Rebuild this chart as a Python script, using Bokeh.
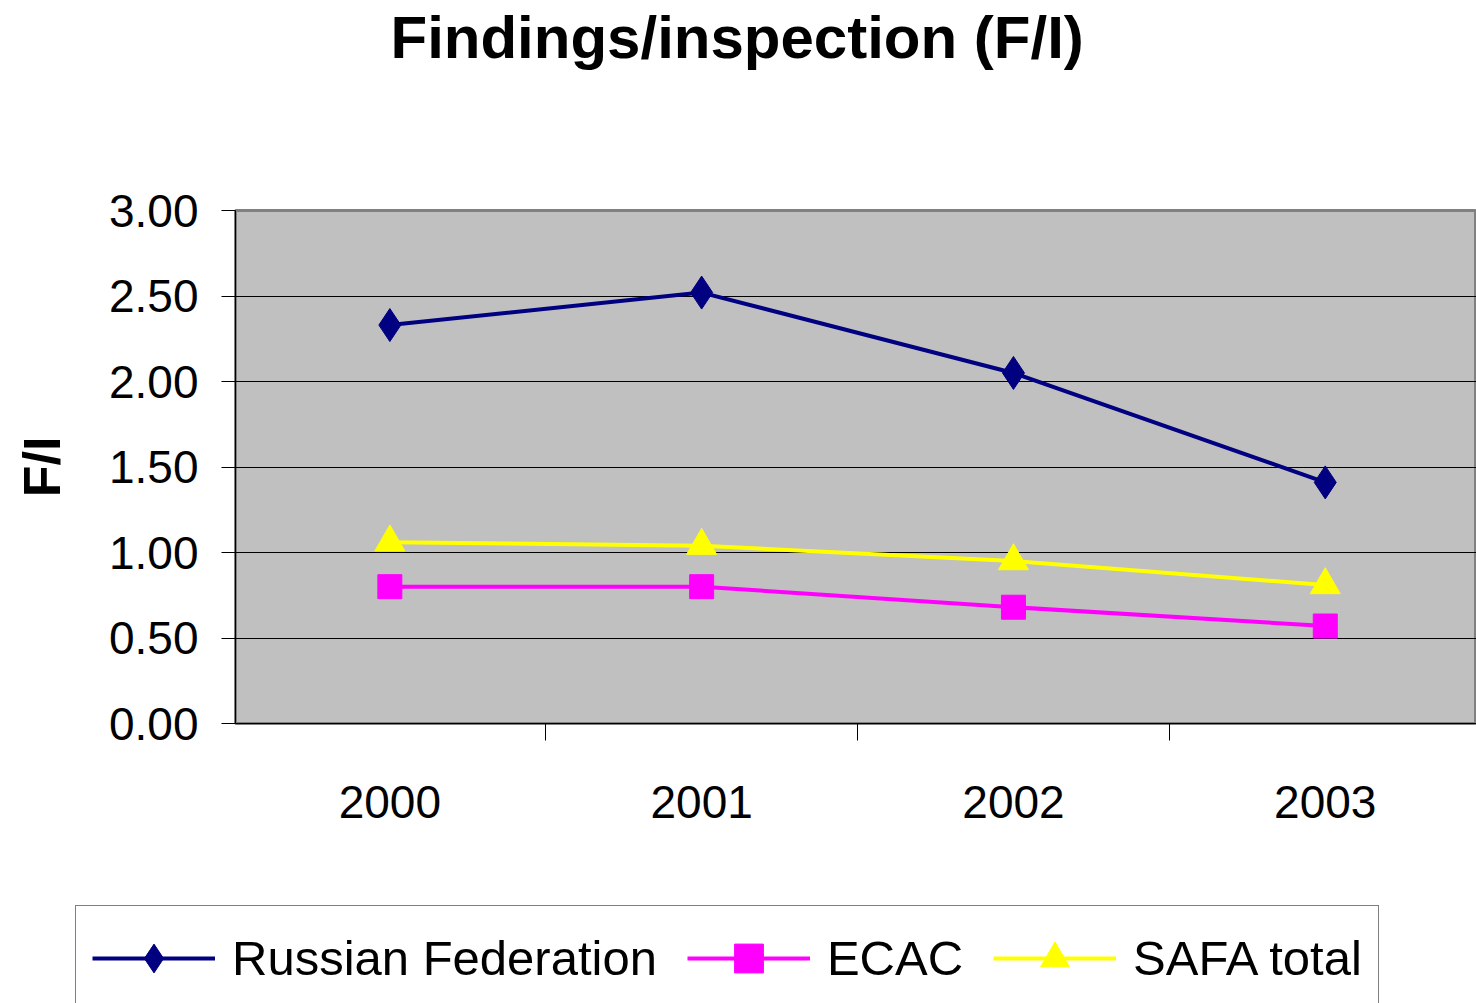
from bokeh.plotting import figure
from bokeh.models import Range1d, FixedTicker, Legend, LegendItem, NumeralTickFormatter, Label
from bokeh.layouts import column
from bokeh.embed import file_html
from bokeh.resources import INLINE

# ---- data ----
years = ["2000", "2001", "2002", "2003"]
russian = [2.33, 2.52, 2.05, 1.41]
ecac = [0.80, 0.80, 0.68, 0.57]
safa = [1.06, 1.04, 0.95, 0.81]
y_ticks = [0, 0.5, 1.0, 1.5, 2.0, 2.5, 3.0]
series_names = ["Russian Federation", "ECAC", "SAFA total"]
colors = ["#000080", "#FF00FF", "#FFFF00"]
markers = ["diamond", "square", "triangle"]
title_text = "Findings/inspection (F/I)"

FONT = "Liberation Sans"
W = 1476
xs = list(range(len(years)))
boundaries = [i - 0.5 for i in range(len(years) + 1)]
series = [russian, ecac, safa]
sizes = [33, 24, 30]


def bare_figure(height):
    f = figure(width=W, height=height, output_backend="svg", toolbar_location=None,
               x_range=Range1d(100, 101), y_range=Range1d(100, 101),
               min_border_left=0, min_border_right=0, min_border_top=0, min_border_bottom=0,
               x_axis_location=None, y_axis_location=None, frame_align=False)
    f.grid.visible = False
    f.outline_line_color = None
    f.background_fill_color = "white"
    f.border_fill_color = "white"
    return f


# ---- header with title ----
HEADER_H = 150
header = bare_figure(HEADER_H)
header.add_layout(Label(x=390, y=HEADER_H - 37, x_units="screen", y_units="screen",
                        text=title_text, text_font=FONT, text_font_size="60px",
                        text_font_style="bold", text_color="black",
                        text_baseline="alphabetic"))

# ---- main chart ----
MAIN_H = 750
p = figure(width=W, height=MAIN_H, output_backend="svg", toolbar_location=None,
           x_range=Range1d(-0.495, 3.485), y_range=Range1d(0, 3),
           min_border_left=235, min_border_right=0, min_border_top=60,
           min_border_bottom=177, frame_align=False)

p.background_fill_color = "#C0C0C0"
p.border_fill_color = "white"
p.outline_line_color = "#808080"
p.outline_line_width = 3

xa = p.xaxis[0]
xa.ticker = FixedTicker(ticks=xs, minor_ticks=boundaries)
xa.major_label_overrides = {i: y for i, y in enumerate(years)}
xa.major_tick_out = 0
xa.major_tick_in = 0
xa.minor_tick_out = 17
xa.minor_tick_in = 0
xa.minor_tick_line_color = "black"
xa.axis_line_color = "black"
xa.major_label_standoff = 45
xa.major_label_text_font = FONT
xa.major_label_text_font_size = "46px"
xa.major_label_text_color = "black"

ya = p.yaxis[0]
ya.ticker = FixedTicker(ticks=y_ticks)
ya.formatter = NumeralTickFormatter(format="0.00")
ya.major_tick_out = 14
ya.major_tick_in = 0
ya.minor_tick_out = 0
ya.minor_tick_in = 0
ya.major_tick_line_color = "black"
ya.axis_line_color = "black"
ya.major_label_standoff = 23
ya.major_label_text_font = FONT
ya.major_label_text_font_size = "46px"
ya.major_label_text_color = "black"
ya.axis_label = "F/I"
ya.axis_label_text_font = FONT
ya.axis_label_text_font_size = "52px"
ya.axis_label_text_font_style = "bold"
ya.axis_label_text_color = "black"
ya.axis_label_standoff = 35

p.xgrid.visible = False
p.ygrid.ticker = FixedTicker(ticks=y_ticks)
p.ygrid.grid_line_color = "black"
p.ygrid.grid_line_width = 1

for vals, c, m, s in zip(series, colors, markers, sizes):
    p.line(xs, vals, line_color=c, line_width=4)
    p.scatter(xs, vals, marker=m, size=s, color=c)

# ---- legend strip (its own renderers sit outside its visible range) ----
LEG_H = 1003 - HEADER_H - MAIN_H
leg = bare_figure(LEG_H)
items = []
for name, vals, c, m in zip(series_names, series, colors, markers):
    lr = leg.line(xs, vals, line_color=c, line_width=4)
    sr = leg.scatter(xs, vals, marker=m, color=c)
    items.append(LegendItem(label=name, renderers=[lr, sr]))

legend = Legend(items=items, orientation="horizontal", location=(75, -8),
                glyph_width=123, glyph_height=72, padding=16, spacing=30,
                label_standoff=17, label_text_font=FONT, label_text_font_size="49px",
                label_text_color="black",
                border_line_color="black", border_line_width=1,
                background_fill_color="white", background_fill_alpha=1, margin=0)
leg.add_layout(legend)

layout = column(header, p, leg, spacing=0)
open("out.html", "w").write(file_html(layout, INLINE))
